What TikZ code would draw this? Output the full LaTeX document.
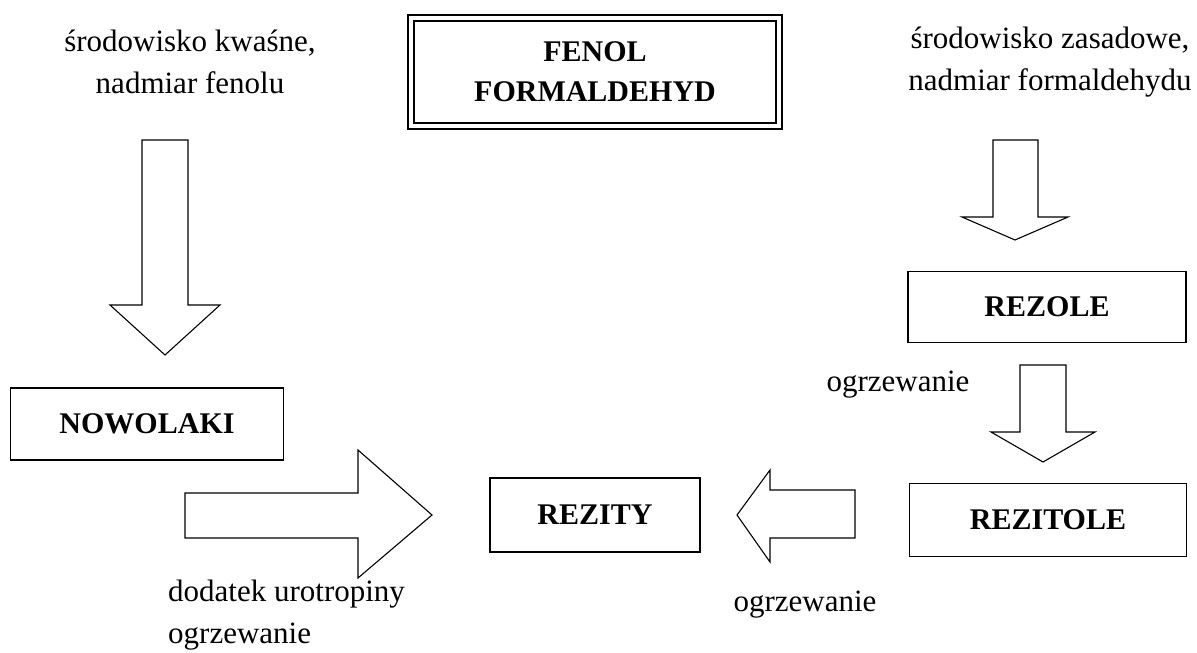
\documentclass[tikz,border=0pt]{standalone}
\usepackage{fontspec}
\setmainfont{Liberation Serif}
\tikzset{
  plain/.style={font=\fontsize{31}{42}\selectfont, inner sep=0pt},
  stagebox/.style={draw, line width=1.6pt, font=\fontsize{30}{40}\selectfont\bfseries},
  mainbox/.style={draw, double, double distance=4.5pt, line width=1.5pt,
    align=center, font=\fontsize{30}{40}\selectfont\bfseries,
    minimum width=368, minimum height=108},
  blockarrow/.style={draw, line width=1.1pt, line join=miter}
}
\begin{document}
\begin{tikzpicture}[x=1pt,y=-1pt]
  \useasboundingbox (0,0) rectangle (1197,653);
  % starting materials and conditions
  \node[mainbox] (fenol) at (595,72) {FENOL\\FORMALDEHYD};
  \node[plain, align=center] (acid) at (190,62) {środowisko kwaśne,\\nadmiar fenolu};
  \node[plain, align=center] (basic) at (1050,62) {środowisko zasadowe,\\nadmiar formaldehydu};
  % products
  \node[stagebox, minimum width=273, minimum height=72] (nowolaki) at (147,424) {NOWOLAKI};
  \node[stagebox, minimum width=278, minimum height=71] (rezole) at (1047,307) {REZOLE};
  \node[stagebox, minimum width=277, minimum height=73] (rezitole) at (1048,520) {REZITOLE};
  \node[stagebox, minimum width=210, minimum height=74] (rezity) at (595,515) {REZITY};
  % arrow labels
  \node[plain] (heatA) at (898,385) {ogrzewanie};
  \node[plain] (heatB) at (805,605) {ogrzewanie};
  \node[plain, align=left, anchor=north west] (additive) at (168,580) {dodatek urotropiny\\ogrzewanie};
  % block arrows
  \draw[blockarrow] (142,140) -- (188,140) -- (188,305) -- (220,305) -- (165,355)
    -- (110,305) -- (142,305) -- cycle;
  \draw[blockarrow] (993,140) -- (1038,140) -- (1038,217) -- (1068,217) -- (1015,240)
    -- (962,217) -- (993,217) -- cycle;
  \draw[blockarrow] (1020,365) -- (1066,365) -- (1066,432) -- (1095,432) -- (1043,462)
    -- (991,432) -- (1020,432) -- cycle;
  \draw[blockarrow] (855,490) -- (770,490) -- (770,470) -- (737,515) -- (770,562)
    -- (770,538) -- (855,538) -- cycle;
  \draw[blockarrow] (185,493) -- (358,493) -- (358,450) -- (432,515) -- (358,578)
    -- (358,538) -- (185,538) -- cycle;
\end{tikzpicture}
\end{document}
